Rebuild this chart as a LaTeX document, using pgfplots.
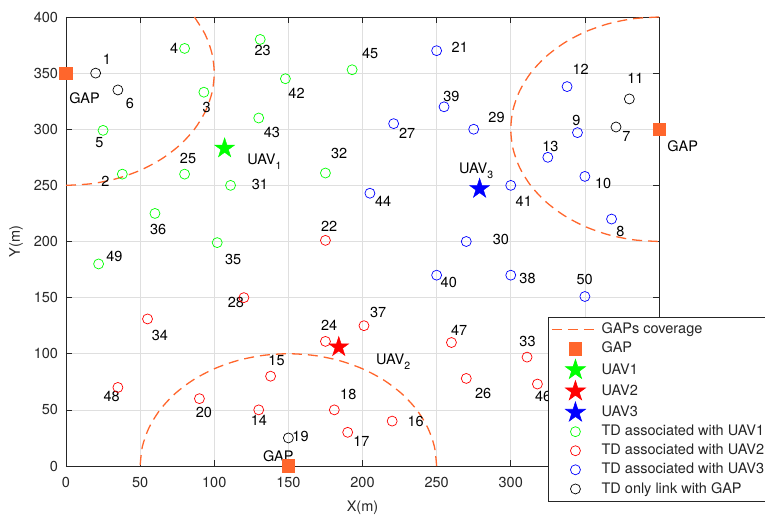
\documentclass[border=0pt]{standalone}
\usepackage{fontspec}
\setmainfont{TeX Gyre Heros}
\usepackage{pgfplots}
\pgfplotsset{compat=1.18}
\usetikzlibrary{calc}
\definecolor{gaporange}{RGB}{255,102,44}
\definecolor{axgray}{RGB}{38,38,38}
\definecolor{gridgray}{RGB}{223,223,223}
\definecolor{mgreen}{RGB}{0,255,0}
\definecolor{mred}{RGB}{255,0,0}
\definecolor{mblue}{RGB}{0,0,255}
\pgfdeclareplotmark{fstar}{%
  \pgfpathmoveto{\pgfpointpolar{90}{\pgfplotmarksize}}%
  \pgfpathlineto{\pgfpointpolar{126}{0.382*\pgfplotmarksize}}%
  \pgfpathlineto{\pgfpointpolar{162}{\pgfplotmarksize}}%
  \pgfpathlineto{\pgfpointpolar{198}{0.382*\pgfplotmarksize}}%
  \pgfpathlineto{\pgfpointpolar{234}{\pgfplotmarksize}}%
  \pgfpathlineto{\pgfpointpolar{270}{0.382*\pgfplotmarksize}}%
  \pgfpathlineto{\pgfpointpolar{306}{\pgfplotmarksize}}%
  \pgfpathlineto{\pgfpointpolar{342}{0.382*\pgfplotmarksize}}%
  \pgfpathlineto{\pgfpointpolar{18}{\pgfplotmarksize}}%
  \pgfpathlineto{\pgfpointpolar{54}{0.382*\pgfplotmarksize}}%
  \pgfpathclose
  \pgfusepathqfillstroke
}
\pgfplotsset{myleg/.style={legend image code/.code={\draw[mark repeat=2,mark phase=2,##1] plot coordinates {(0pt,0pt) (23.5pt,0pt) (47pt,0pt)};}}}
\newcommand{\sub}[1]{\raisebox{-5pt}{\fontsize{10.5}{10.5}\selectfont #1}}
\begin{document}
\fontsize{14.5}{17}\selectfont
\begin{tikzpicture}
\begin{axis}[
  name=ax, at={(0,0)}, anchor=south west,
  width=593pt, height=449pt, scale only axis,
  xmin=0, xmax=400, ymin=0, ymax=400,
  xtick={0,50,...,400}, ytick={0,50,...,400},
  xticklabels={0,50,100,150,200,250,300,,},
  grid=major, major grid style={gridgray, line width=0.6pt},
  axis line style={axgray, line width=0.6pt},
  tick style={axgray, line width=0.6pt},
  tick align=inside, major tick length=6pt,
  xlabel={X(m)}, ylabel={Y(m)},
  xlabel style={at={(axis description cs:0.5,-0.0935)}, anchor=center, text=axgray},
  ylabel style={at={(axis description cs:-0.0843,0.5)}, anchor=center, text=axgray},
  /pgf/number format/assume math mode=true,
  xticklabel style={yshift=-6pt, text=axgray},
  yticklabel style={xshift=-3pt, text=axgray},
  clip=false,
  legend style={at={(axis description cs:0.8128,0.3318)}, anchor=north west,
    draw=axgray, line width=0.6pt, fill=white, inner xsep=3pt, inner ysep=3.5pt,
    row sep=2.3pt, text=axgray},
  legend cell align=left,
]
% coverage arcs
\addplot[myleg, gaporange, line width=1.3pt, dash pattern=on 10pt off 6pt, smooth] coordinates {
 (0,250) (17.36,251.52) (34.20,256.03) (50,263.40) (64.28,273.40) (76.60,285.72) (86.60,300)
 (93.97,315.80) (98.48,332.64) (100,350) (98.48,367.36) (93.97,384.20) (86.60,400)};
\addlegendentry{GAPs coverage}
\addplot[forget plot, gaporange, line width=1.3pt, dash pattern=on 10pt off 6pt, smooth] coordinates {
 (250,0) (248.48,17.36) (243.97,34.20) (236.60,50) (226.60,64.28) (214.28,76.60) (200,86.60)
 (184.20,93.97) (167.36,98.48) (150,100) (132.64,98.48) (115.80,93.97) (100,86.60) (85.72,76.60)
 (73.40,64.28) (63.40,50) (56.03,34.20) (51.52,17.36) (50,0)};
\addplot[forget plot, gaporange, line width=1.3pt, dash pattern=on 10pt off 6pt, smooth] coordinates {
 (400,400) (382.64,398.48) (365.80,393.97) (350,386.60) (335.72,376.60) (323.40,364.28) (313.40,350)
 (306.03,334.20) (301.52,317.36) (300,300) (301.52,282.64) (306.03,265.80) (313.40,250) (323.40,235.72)
 (335.72,223.40) (350,213.40) (365.80,206.03) (382.64,201.52) (400,200)};
% GAPs
\addplot[myleg, only marks, mark=square*, mark size=6.3pt, draw=gaporange, fill=gaporange] coordinates {(0,350) (150,0) (400,300)};
\addlegendentry{GAP}
% UAVs
\addplot[myleg, only marks, mark=fstar, mark size=10.5pt, draw=mgreen, fill=mgreen] coordinates {(107,283)};
\addlegendentry{UAV1}
\addplot[myleg, only marks, mark=fstar, mark size=10.5pt, draw=mred, fill=mred] coordinates {(184,106)};
\addlegendentry{UAV2}
\addplot[myleg, only marks, mark=fstar, mark size=10.5pt, draw=mblue, fill=mblue] coordinates {(279,247)};
\addlegendentry{UAV3}
% TDs
\addplot[myleg, only marks, mark=o, mark size=5pt, line width=0.7pt, draw=mgreen] coordinates {
 (38,260) (93,333) (80,372) (25,299) (131,380) (80,260) (111,250) (175,261) (102,199) (60,225)
 (148,345) (130,310) (193,353) (22,180)};
\addlegendentry{TD associated with UAV1}
\addplot[myleg, only marks, mark=o, mark size=5pt, line width=0.7pt, draw=mred] coordinates {
 (130,50) (138,80) (220,40) (190,30) (181,50) (90,60) (175,201) (175,111) (270,78) (120,150)
 (311,97) (55,131) (201,125) (318,73) (260,110) (35,70)};
\addlegendentry{TD associated with UAV2}
\addplot[myleg, only marks, mark=o, mark size=5pt, line width=0.7pt, draw=mblue] coordinates {
 (368,220) (345,297) (350,258) (338,338) (325,275) (250,370) (221,305) (275,300) (270,200) (300,170)
 (255,320) (250,170) (300,250) (205,243) (350,151)};
\addlegendentry{TD associated with UAV3}
\addplot[myleg, only marks, mark=o, mark size=5pt, line width=0.7pt, draw=black] coordinates {
 (20,350) (35,335) (371,302) (380,327) (150,25)};
\addlegendentry{TD only link with GAP}
% labels
\begin{scope}[every node/.style={inner sep=0pt, text=black}]
\node at (axis cs:27.6,362.3) {1};
\node at (axis cs:26.5,253.7) {2};
\node at (axis cs:94.8,319.3) {3};
\node at (axis cs:73,372.4) {4};
\node at (axis cs:22.5,288.2) {5};
\node at (axis cs:43.1,323.2) {6};
\node at (axis cs:378,293.8) {7};
\node at (axis cs:374,209.2) {8};
\node at (axis cs:344.3,307.4) {9};
\node at (axis cs:362.3,251.9) {10};
\node at (axis cs:384.1,345.7) {11};
\node at (axis cs:347.2,353.1) {12};
\node at (axis cs:326.8,285.1) {13};
\node at (axis cs:130.1,40.6) {14};
\node at (axis cs:142,93.7) {15};
\node at (axis cs:235.8,39.4) {16};
\node at (axis cs:199.3,22.3) {17};
\node at (axis cs:190.4,64.1) {18};
\node at (axis cs:158.2,26.1) {19};
\node at (axis cs:93,47.7) {20};
\node at (axis cs:265.6,373.3) {21};
\node at (axis cs:177.5,213.9) {22};
\node at (axis cs:132.6,370.3) {23};
\node at (axis cs:177.5,124.9) {24};
\node at (axis cs:82.3,273.9) {25};
\node at (axis cs:281.4,64.7) {26};
\node at (axis cs:230.1,296.7) {27};
\node at (axis cs:114.6,145.4) {28};
\node at (axis cs:290.4,310.1) {29};
\node at (axis cs:293.4,201.8) {30};
\node at (axis cs:130.8,250.8) {31};
\node at (axis cs:184.3,278) {32};
\node at (axis cs:311.3,110.7) {33};
\node at (axis cs:63.4,116) {34};
\node at (axis cs:112.8,184.3) {35};
\node at (axis cs:62.2,210.7) {36};
\node at (axis cs:210.6,136.8) {37};
\node at (axis cs:311.3,166.7) {38};
\node at (axis cs:260,329.4) {39};
\node at (axis cs:258.2,163.5) {40};
\node at (axis cs:308.8,235.9) {41};
\node at (axis cs:155.5,332.3) {42};
\node at (axis cs:138.9,296.7) {43};
\node at (axis cs:213.9,236.2) {44};
\node at (axis cs:205.2,367.4) {45};
\node at (axis cs:321.8,62.3) {46};
\node at (axis cs:265.2,121.1) {47};
\node at (axis cs:30.8,61.7) {48};
\node at (axis cs:32.6,186.3) {49};
\node at (axis cs:349.9,166.2) {50};
\node at (axis cs:12.5,327.2) {GAP};
\node at (axis cs:416,285) {GAP};
\node at (axis cs:143.2,8.3) {GAP};
\node[anchor=base west] at (axis cs:122.2,268.6) {UAV\sub{1}};
\node[anchor=base west] at (axis cs:209,90.8) {UAV\sub{2}};
\node[anchor=base west] at (axis cs:265,260.6) {UAV\sub{3}};
\end{scope}
\end{axis}
\pgfresetboundingbox
\path[use as bounding box] ($(ax.south west)+(-66pt,-50pt)$) rectangle ($(ax.north east)+(106pt,17pt)$);
\end{tikzpicture}
\end{document}
